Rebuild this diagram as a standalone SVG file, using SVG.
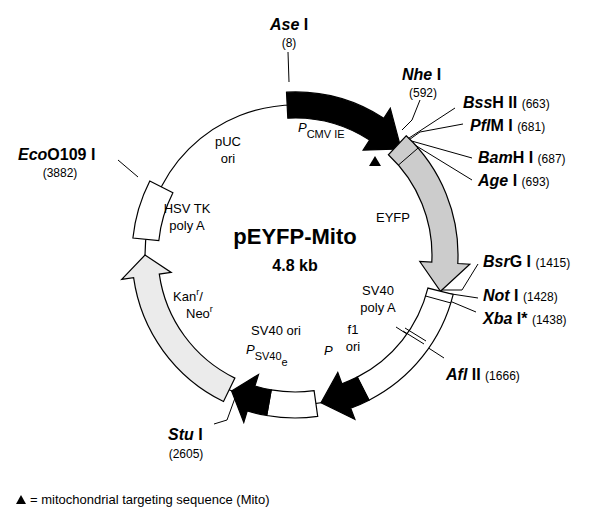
<svg xmlns="http://www.w3.org/2000/svg" width="608" height="512" viewBox="0 0 608 512">
<style>
text{font-family:"Liberation Sans",Arial,sans-serif;fill:#000}
.t{font-size:13px}
.s{font-size:12px}
.b{font-size:16px;font-weight:bold}
.bi{font-style:italic}
.seg{stroke:#000;stroke-width:1.2;stroke-linejoin:miter}
.ln{stroke:#000;stroke-width:1;fill:none}
</style>
<rect width="608" height="512" fill="#fff"/>
<g id="backbone"><circle cx="295" cy="255" r="150" fill="none" stroke="#000" stroke-width="1.2"/></g>
<g id="connectors">
<path class="ln" d="M288,52 L289,82"/>
<path class="ln" d="M420,100 L412,120 L402,130"/>
<path class="ln" d="M455,108 L406,140"/>
<path class="ln" d="M463,124 L420,132 L406,142"/>
<path class="ln" d="M472,158 L408,140"/>
<path class="ln" d="M472,180 L410,142"/>
<path class="ln" d="M118,160 L138,177"/>
<path class="ln" d="M478,264 L462,290 L440,290"/>
<path class="ln" d="M478,298 L432,291"/>
<path class="ln" d="M476,312 L433,294"/>
<path class="ln" d="M444,358 L396,327"/>
<path class="ln" d="M214,424 L227,420 L235,398"/>
</g>
<g id="pCMV"><path class="seg" fill="#000" d="M286.5,92.2 A163,163 0 0 1 383.8,118.3 L390.3,108.2 L401.1,148.9 L363.1,150.2 L369.6,140.1 A137,137 0 0 0 287.8,118.2 Z"/></g>
<g id="eyfp"><path class="seg" fill="#ccc" d="M406.2,135.8 A163,163 0 0 1 457.8,263.5 L469.8,264.2 L440.5,291.3 L419.8,261.5 L431.8,262.2 A137,137 0 0 0 388.4,154.8 Z"/><path class="ln" d="M418,148.1 L398.4,165.1"/></g>
<g id="sv40polyA"><path class="seg" fill="#fff" d="M453.2,294.4 A163,163 0 0 1 369,400.2 L357.2,377.1 A137,137 0 0 0 427.9,288.1 Z"/>
<path class="ln" d="M425.5,296 L451,303"/>
<path class="ln" d="M403,331 L424,344 M405,328 L426,341"/></g>
<g id="f1P"><path class="seg" fill="#000" d="M369,400.2 A163,163 0 0 1 350.7,408.2 L354.9,419.4 L321,402.7 L337.8,372.5 L341.9,383.7 A137,137 0 0 0 357.2,377.1 Z"/></g>
<g id="sv40ori"><path class="seg" fill="#fff" d="M317.7,416.4 A163,163 0 0 1 266.7,415.5 L271.2,389.9 A137,137 0 0 0 314.1,390.7 Z"/></g>
<g id="psv40"><path class="seg" fill="#000" d="M266.7,415.5 A163,163 0 0 1 247.3,410.9 L243.8,422.4 L231.6,391 L258.5,374.5 L254.9,386 A137,137 0 0 0 271.2,389.9 Z"/></g>
<g id="kanneo"><path class="seg" fill="#ebebeb" d="M223.5,401.5 A163,163 0 0 1 133.6,277.7 L121.7,279.4 L145,255 L171.2,272.4 L159.3,274.1 A137,137 0 0 0 234.9,378.1 Z"/></g>
<g id="hsvtk"><path class="seg" fill="#fff" d="M132.9,238 A163,163 0 0 1 149.8,181 L172.9,192.8 A137,137 0 0 0 158.8,240.7 Z"/></g>
<g id="mito"><path d="M369,166 L375,156 L381,166 Z" fill="#000"/></g>
<g id="labels">
<text x="270" y="30" class="b"><tspan class="bi">Ase</tspan> I</text>
<text x="289" y="47" class="s" text-anchor="middle">(8)</text>
<text x="402" y="80" class="b"><tspan class="bi">Nhe</tspan> I</text>
<text x="423" y="97" class="s" text-anchor="middle">(592)</text>
<text x="463" y="108" class="b"><tspan class="bi">Bss</tspan>H II <tspan class="s" font-weight="normal">(663)</tspan></text>
<text x="470" y="131" class="b"><tspan class="bi">Pfl</tspan>M I <tspan class="s" font-weight="normal">(681)</tspan></text>
<text x="478" y="163" class="b"><tspan class="bi">Bam</tspan>H I <tspan class="s" font-weight="normal">(687)</tspan></text>
<text x="478" y="186" class="b"><tspan class="bi">Age</tspan> I <tspan class="s" font-weight="normal">(693)</tspan></text>
<text x="18" y="160" class="b"><tspan class="bi">Eco</tspan>O109 I</text>
<text x="60" y="177" class="s" text-anchor="middle">(3882)</text>
<text x="483" y="267" class="b"><tspan class="bi">Bsr</tspan>G I <tspan class="s" font-weight="normal">(1415)</tspan></text>
<text x="483" y="301" class="b"><tspan class="bi">Not</tspan> I <tspan class="s" font-weight="normal">(1428)</tspan></text>
<text x="483" y="324" class="b"><tspan class="bi">Xba</tspan> I* <tspan class="s" font-weight="normal">(1438)</tspan></text>
<text x="446" y="380" class="b"><tspan class="bi">Afl</tspan> II <tspan class="s" font-weight="normal">(1666)</tspan></text>
<text x="168" y="440" class="b"><tspan class="bi">Stu</tspan> I</text>
<text x="186" y="458" class="s" text-anchor="middle">(2605)</text>
<text x="228" y="146" class="t" text-anchor="middle">pUC</text>
<text x="228" y="163" class="t" text-anchor="middle">ori</text>
<text x="298" y="132" class="t"><tspan font-style="italic">P</tspan><tspan dy="6" font-size="11">CMV IE</tspan></text>
<text x="393" y="222" class="t" text-anchor="middle">EYFP</text>
<text x="187" y="213" class="t" text-anchor="middle">HSV TK</text>
<text x="187" y="230" class="t" text-anchor="middle">poly A</text>
<text x="295" y="244" font-size="22" font-weight="bold" text-anchor="middle">pEYFP-Mito</text>
<text x="295" y="271" class="b" text-anchor="middle">4.8 kb</text>
<text x="378" y="295" class="t" text-anchor="middle">SV40</text>
<text x="378" y="312" class="t" text-anchor="middle">poly A</text>
<text x="353" y="334" class="t" text-anchor="middle">f1</text>
<text x="353" y="351" class="t" text-anchor="middle">ori</text>
<text x="324" y="355" class="t" font-style="italic">P</text>
<text x="276" y="335" class="t" text-anchor="middle">SV40 ori</text>
<text x="246" y="354" class="t"><tspan font-style="italic">P</tspan><tspan dy="6" font-size="11">SV40</tspan><tspan dy="6" font-size="11">e</tspan></text>
<text x="173" y="301" class="t">Kan<tspan dy="-6" font-size="9">r</tspan><tspan dy="6">/</tspan></text>
<text x="186" y="318" class="t">Neo<tspan dy="-6" font-size="9">r</tspan></text>
<path d="M16,504 L21,495 L26,504 Z" fill="#000"/>
<text x="30" y="504" class="t">= mitochondrial targeting sequence (Mito)</text>
</g>
</svg>
